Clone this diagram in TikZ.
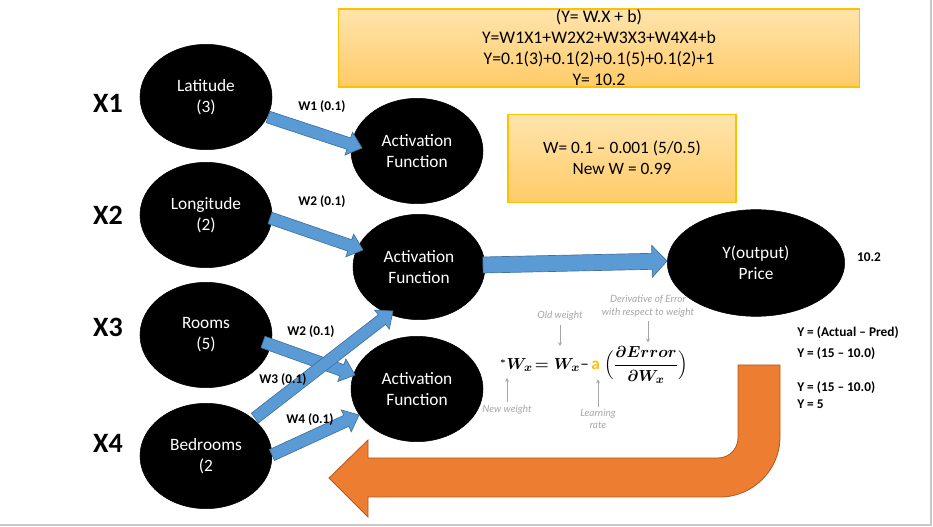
\documentclass[tikz,border=0pt]{standalone}
\usepackage{amsmath}
\usepackage{fontspec}
\setmainfont{Carlito}
\newfontfamily\handfont{Lato}
\usetikzlibrary{shapes.geometric,calc,arrows.meta}
\definecolor{bluefill}{HTML}{5B9BD5}
\definecolor{blueline}{HTML}{41719C}
\definecolor{orfill}{HTML}{ED7D31}
\definecolor{orline}{HTML}{AE5A21}
\definecolor{goldc}{HTML}{FFC000}
\definecolor{boxtop}{HTML}{FFE4AC}
\definecolor{boxbot}{HTML}{FFCB68}
\definecolor{annot}{HTML}{A6A6A6}
\definecolor{framec}{HTML}{C8C8C8}
% block arrow: start, end, half shaft, half head, head length
\newcommand{\blkarrow}[5]{%
  \path #1 coordinate (ba-s) #2 coordinate (ba-e);
  \coordinate (ba-h) at ($(ba-e)!#5!(ba-s)$);
  \filldraw[barrow] ($(ba-s)!#3!90:(ba-e)$) -- ($(ba-h)!#3!-90:(ba-s)$)
    -- ($(ba-h)!#4!-90:(ba-s)$) -- (ba-e) -- ($(ba-h)!#4!90:(ba-s)$)
    -- ($(ba-h)!#3!90:(ba-s)$) -- ($(ba-s)!#3!-90:(ba-e)$) -- cycle;
}
\begin{document}
\begin{tikzpicture}[x=0.75pt,y=-0.75pt,
  ell/.style={ellipse, fill=black, draw=black, text=white, align=center,
    minimum width=99pt, minimum height=79pt, inner sep=0pt,
    font=\fontsize{13}{15.75}\selectfont},
  xlab/.style={font=\fontsize{21}{25}\selectfont\bfseries},
  wlab/.style={font=\fontsize{10}{12}\selectfont\bfseries},
  sidelab/.style={font=\fontsize{10}{12}\selectfont\bfseries, anchor=west, inner sep=0pt},
  boxstyle/.style={draw=goldc, line width=0.9pt, top color=boxtop, bottom color=boxbot},
  boxtext/.style={align=center, font=\fontsize{13.3}{15.75}\selectfont, inner sep=0pt},
  barrow/.style={fill=bluefill, draw=blueline, line width=0.5pt},
  orarrow/.style={fill=orfill, draw=orline, line width=0.6pt},
  ann/.style={text=annot, font=\handfont\itshape\fontsize{7.5}{9.5}\selectfont, align=center, inner sep=1pt},
  annarrow/.style={draw=annot, line width=0.5pt, -{Stealth[length=3pt,width=3pt]}},
]
\useasboundingbox (0,0) rectangle (933,527);
\draw[framec, line width=1.5pt] (931,0) -- (931,525) -- (0,525);

% formula boxes
\node[boxstyle, minimum width=391pt, minimum height=58.5pt, inner sep=0pt] (eqbox) at (599,48) {};
\node[boxtext] (eqtext) at (eqbox.center) {(Y= W.X + b)\\Y=W1X1+W2X2+W3X3+W4X4+b\\Y=0.1(3)+0.1(2)+0.1(5)+0.1(2)+1\\Y= 10.2};
\node[boxstyle, minimum width=171pt, minimum height=66pt, inner sep=0pt] (wbox) at (622,158.5) {};
\node[boxtext, font=\fontsize{13}{15.75}\selectfont] (wtext) at (622,158) {W= 0.1 – 0.001 (5/0.5)\\New W = 0.99};

% gradient descent formula with annotations
\node[font=\fontsize{12.8}{16}\selectfont, inner sep=0pt] (eq) at (594,365)
  {$\boldsymbol{{}^{\scriptscriptstyle *}W_{x}\!= W_{x}}\text{–}\,\mbox{\bfseries\color{goldc}a}\;\boldsymbol{\Bigl(\dfrac{\partial Error}{\partial W_{x}}\Bigr)}$};
\node[ann] (oldw) at (560,316) {Old weight};
\node[ann] (deriv) at (648,306) {Derivative of Error\\with respect to weight};
\node[ann] (neww) at (507,410) {New weight};
\node[ann] (lrate) at (598,419) {Learning\\rate};
\draw[annarrow] ($(oldw.south)+(0,3)$) -- ($(oldw.south)+(0,24)$);
\draw[annarrow] ($(deriv.south)+(0,3)$) -- ($(deriv.south)+(0,24)$);
\draw[annarrow] ($(neww.north)+(0,-2)$) -- ($(neww.north)+(0,-26)$);
\draw[annarrow] ($(lrate.north)+(0,0)$) -- ($(lrate.north)+(0,-28)$);

% input nodes
\node[ell] (lat) at (206,97) {Latitude\\(3)};
\node[ell] (lon) at (206,215) {Longitude\\(2)};
\node[ell] (rooms) at (206,335) {Rooms\\(5)};
\node[ell] (bed) at (206,456) {Bedrooms\\(2};
% activation nodes
\node[ell] (act1) at (417,151) {Activation\\Function};
\node[ell] (act2) at (419,267) {Activation\\Function};
\node[ell] (act3) at (417,389) {Activation\\Function};
% output node
\node[ell, minimum width=133pt, minimum height=80pt] (yout) at (756,263) {Y(output)\\Price};

% input labels
\node[xlab] (x1) at (108,103) {X1};
\node[xlab] (x2) at (108,215) {X2};
\node[xlab] (x3) at (108,327) {X3};
\node[xlab] (x4) at (108,443) {X4};

% weighted connectors
\blkarrow{($(lat.center)+(62,20)$)}{($(act1.center)+(-55,-3)$)}{4.5pt}{9pt}{10.5pt}
\blkarrow{($(lon.center)+(64,3)$)}{($(act2.center)+(-56,-17)$)}{4.5pt}{9pt}{10.5pt}
\blkarrow{($(rooms.center)+(57,7)$)}{($(act3.center)+(-62,-14)$)}{4.5pt}{9pt}{10.5pt}
\blkarrow{($(bed.center)+(49,-38)$)}{($(act2.center)+(-26,44)$)}{4.5pt}{9pt}{10.5pt}
\blkarrow{($(bed.center)+(66,-1)$)}{($(act3.center)+(-58,26)$)}{4.5pt}{9pt}{10.5pt}
\blkarrow{($(act2.center)+(64,-2)$)}{($(yout.center)+(-89,-2)$)}{6pt}{12pt}{11.25pt}

\node[wlab] (w1) at (322,107) {W1 (0.1)};
\node[wlab] (w2) at (322,202) {W2 (0.1)};
\node[wlab] (w2b) at (311,332) {W2 (0.1)};
\node[wlab] (w3) at (283,380) {W3 (0.1)};
\node[wlab] (w4) at (310,420) {W4 (0.1)};

% output value and error
\node[wlab] (yval) at (869,257) {10.2};
\node[sidelab] (e1) at (797,333) {Y = (Actual – Pred)};
\node[sidelab] (e2) at (797,354) {Y = (15 – 10.0)};
\node[sidelab] (e3) at (797,388) {Y = (15 – 10.0)};
\node[sidelab] (e4) at (797,404) {Y = 5};

% back-propagation arrow
\filldraw[orarrow] (738,365) -- (780,365) -- (780,437)
  .. controls (780,470) and (753,497) .. (720,497) -- (368,497) -- (368,517)
  -- (329,478) -- (368,440) -- (368,458) -- (718,458)
  .. controls (729,458) and (738,449) .. (738,438) -- cycle;
\end{tikzpicture}
\end{document}
